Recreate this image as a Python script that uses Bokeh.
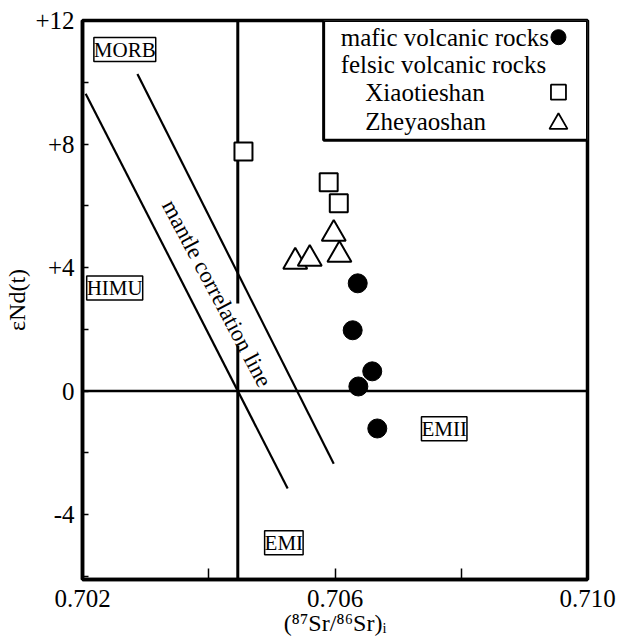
import math
from bokeh.plotting import figure
from bokeh.models import Label, FixedTicker, Range1d, Span, NumeralTickFormatter, CustomJSTickFormatter
from bokeh.embed import file_html
from bokeh.resources import INLINE

# ---------------- data ----------------
mafic_sr = [0.70636, 0.70628, 0.70659, 0.70637, 0.70667]
mafic_nd = [3.49, 1.97, 0.64, 0.15, -1.21]
xiao_sr = [0.70455, 0.70590, 0.70606]
xiao_nd = [7.76, 6.76, 6.08]
zhey_sr = [0.70537, 0.70560, 0.70598, 0.70607]
zhey_nd = [4.19, 4.28, 5.09, 4.41]

mcl_lower_sr = [0.70205, 0.70525]
mcl_lower_nd = [9.63, -3.15]
mcl_upper_sr = [0.70287, 0.70598]
mcl_upper_nd = [10.27, -2.35]
bulk_earth_sr = 0.70446
chur_nd = 0.0

x_ticks = [0.702, 0.706, 0.710]
x_minor = [0.704, 0.708]
y_ticks = [-4, 0, 4, 8, 12]
y_minor = [-6, -2, 2, 6, 10]

reservoirs = ["MORB", "HIMU", "EMI", "EMII"]
res_sr = [0.70267, 0.70251, 0.70519, 0.70773]
res_nd = [11.06, 3.34, -4.91, -1.22]

legend_texts = ["mafic volcanic rocks", "felsic volcanic rocks", "Xiaotieshan", "Zheyaoshan"]
x_title = "(⁸⁷Sr/⁸⁶Sr)ᵢ"
y_title = "εNd(t)"

# ---------------- layout / style ----------------
FONT = "Liberation Serif"
X0, X1 = 0.702, 0.710
Y0, Y1 = -6.1, 12.0

p = figure(width=629, height=643, x_range=Range1d(X0, X1), y_range=Range1d(Y0, Y1),
           output_backend="svg", toolbar_location=None,
           min_border_left=82, min_border_right=42, min_border_top=20, min_border_bottom=64)
p.grid.visible = False
p.outline_line_color = "black"
p.outline_line_width = 3.5
p.background_fill_color = "white"
p.border_fill_color = "white"

xa = p.xaxis[0]
xa.ticker = FixedTicker(ticks=x_ticks, minor_ticks=x_minor)
xa.formatter = NumeralTickFormatter(format="0.000")
xa.major_tick_in = 11
xa.major_tick_out = 0
xa.minor_tick_in = 11
xa.minor_tick_out = 0
xa.major_tick_line_width = 1.5
xa.minor_tick_line_width = 1.5
xa.axis_line_width = 3.5
xa.major_label_text_font = FONT
xa.major_label_text_font_size = "25px"
xa.major_label_text_color = "black"
xa.major_label_standoff = 10
xa.axis_label = x_title
xa.axis_label_text_font = FONT
xa.axis_label_text_font_size = "24px"
xa.axis_label_text_font_style = "normal"
xa.axis_label_text_color = "black"
xa.axis_label_standoff = 0

ya = p.yaxis[0]
ya.ticker = FixedTicker(ticks=y_ticks, minor_ticks=y_minor)
ya.formatter = CustomJSTickFormatter(code="return tick > 0 ? '+' + tick : '' + tick;")
ya.major_tick_in = 6
ya.major_tick_out = 0
ya.minor_tick_in = 6
ya.minor_tick_out = 0
ya.major_tick_line_width = 1.5
ya.minor_tick_line_width = 1.5
ya.axis_line_width = 3.5
ya.major_label_text_font = FONT
ya.major_label_text_font_size = "25px"
ya.major_label_text_color = "black"
ya.major_label_standoff = 8
ya.axis_label = y_title
ya.axis_label_text_font = FONT
ya.axis_label_text_font_size = "24px"
ya.axis_label_text_font_style = "normal"
ya.axis_label_text_color = "black"
ya.axis_label_standoff = 2

# reference lines
p.add_layout(Span(location=chur_nd, dimension="width", line_color="black", line_width=2.5))
vline_gap = (1.48, 2.84)  # break where the rotated text crosses
p.segment(x0=[bulk_earth_sr, bulk_earth_sr], y0=[Y0, vline_gap[1]],
          x1=[bulk_earth_sr, bulk_earth_sr], y1=[vline_gap[0], Y1],
          line_color="black", line_width=3)

# mantle correlation lines
p.line(mcl_lower_sr, mcl_lower_nd, line_color="black", line_width=2.2)
p.line(mcl_upper_sr, mcl_upper_nd, line_color="black", line_width=2.2)
p.add_layout(Label(x=0.70413, y=3.16, text="mantle correlation line", angle=-62 * math.pi / 180,
                   text_align="center", text_baseline="middle", text_font=FONT,
                   text_font_size="23px", text_color="black"))

# reservoir boxes
for name, sx, sy in zip(reservoirs, res_sr, res_nd):
    p.add_layout(Label(x=sx, y=sy, text=name, text_align="center", text_baseline="middle",
                       text_font=FONT, text_font_size="21px", text_color="black",
                       border_line_color="black", border_line_width=1.5,
                       background_fill_color="white", padding=0))

# data points
p.scatter(mafic_sr, mafic_nd, marker="circle", size=19, fill_color="black", line_color="black")
p.scatter(xiao_sr, xiao_nd, marker="square", size=18, fill_color="white", line_color="black", line_width=2)
p.scatter(zhey_sr, zhey_nd, marker="triangle", size=24, fill_color="white", line_color="black", line_width=2)

# legend box (manual)
leg_left, leg_bottom = 0.70582, 8.12
p.quad(left=[leg_left], right=[X1], bottom=[leg_bottom], top=[Y1],
       fill_color="white", line_color="black", line_width=3)
row_y = [11.46, 10.58, 9.68, 8.74]
text_x = [0.70609, 0.70609, 0.70648, 0.70648]
for t, tx, ty in zip(legend_texts, text_x, row_y):
    p.add_layout(Label(x=tx, y=ty, text=t, text_align="left", text_baseline="middle",
                       text_font=FONT, text_font_size="25px", text_color="black"))
mk_x = 0.70954
p.scatter([mk_x], [row_y[0]], marker="circle", size=15, fill_color="black", line_color="black")
p.scatter([mk_x], [row_y[2]], marker="square", size=15, fill_color="white", line_color="black", line_width=1.8)
p.scatter([mk_x], [row_y[3] - 0.08], marker="triangle", size=18, fill_color="white", line_color="black", line_width=1.8)

open("out.html", "w").write(file_html(p, INLINE))
